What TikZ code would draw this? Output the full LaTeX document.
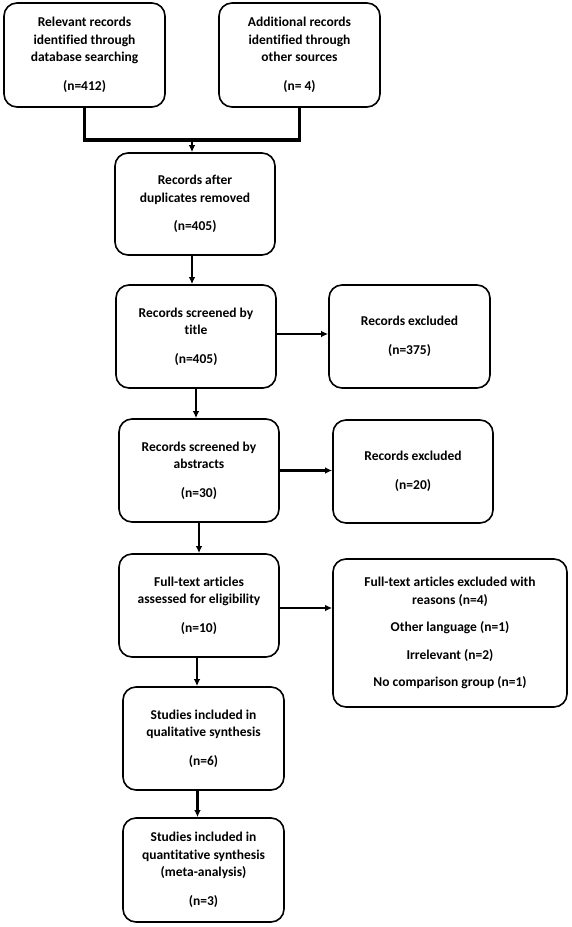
\documentclass[tikz,border=0pt]{standalone}
\usepackage{fontspec}
\setmainfont[Ligatures={NoCommon}]{Carlito}
\usetikzlibrary{arrows.meta}
\begin{document}
\begin{tikzpicture}[x=1pt,y=-1pt,
  box/.style={draw=black, line width=1.6pt, rounded corners=13pt, align=center,
    font=\bfseries\fontsize{13.5}{17.5}\selectfont, inner sep=2pt},
  thickline/.style={line width=3.2pt},
  arr/.style={line width=2.1pt, -{Latex[length=7pt,width=6.5pt]}},
  thickarr/.style={line width=2.4pt, -{Latex[length=7pt,width=6.5pt]}}]
\useasboundingbox (0,0) rectangle (572,927);
\node[box, minimum width=161pt, minimum height=104pt] (b1) at (84.5,55) {Relevant records\\identified through\\database searching\\[11pt](n=412)};
\node[box, minimum width=161pt, minimum height=104pt] (b2) at (299.5,55) {Additional records\\identified through\\other sources\\[11pt](n= 4)};
\node[box, minimum width=160pt, minimum height=102pt] (b3) at (195,204) {Records after\\duplicates removed\\[11pt](n=405)};
\node[box, minimum width=160pt, minimum height=103pt] (b4) at (196,336.5) {Records screened by\\title\\[11pt](n=405)};
\node[box, minimum width=161pt, minimum height=103pt] (e1) at (409.5,336.5) {Records excluded\\[11pt](n=375)};
\node[box, minimum width=160pt, minimum height=103pt] (b5) at (199,470.5) {Records screened by\\abstracts\\[11pt](n=30)};
\node[box, minimum width=160pt, minimum height=103pt] (e2) at (413,471.5) {Records excluded\\[11pt](n=20)};
\node[box, minimum width=160pt, minimum height=103pt] (b6) at (199,605.5) {Full-text articles\\assessed for eligibility\\[11pt](n=10)};
\node[box, minimum width=234pt, minimum height=148pt] (e3) at (450,633) {Full-text articles excluded with\\reasons (n=4)\\[10pt]Other language (n=1)\\[10pt]Irrelevant (n=2)\\[10pt]No comparison group (n=1)};
\node[box, minimum width=161pt, minimum height=103pt] (b7) at (203.5,738.5) {Studies included in\\qualitative synthesis\\[11pt](n=6)};
\node[box, minimum width=161pt, minimum height=104pt] (b8) at (203.5,870) {Studies included in\\quantitative synthesis\\(meta-analysis)\\[11pt](n=3)};
\coordinate (j) at (192,140);
\draw[thickline] (b1.south) |- (j) -| (b2.south);
\draw[thickarr] (j) -- (j |- b3.north);
\draw[arr] ([xshift=-3pt]b3.south) -- ([xshift=-3pt]b3.south |- b4.north);
\draw[arr] (b4.south) -- (b4.south |- b5.north);
\draw[arr] (b5.south) -- (b5.south |- b6.north);
\draw[arr] ([xshift=-2pt]b6.south) -- ([xshift=-2pt]b6.south |- b7.north);
\draw[arr] ([xshift=-6pt]b7.south) -- ([xshift=-6pt]b7.south |- b8.north);
\draw[arr] ([yshift=2.5pt]b4.east) -- ([yshift=2.5pt]b4.east -| e1.west);
\draw[arr] (b5.east) -- (b5.east -| e2.west);
\draw[arr] ([yshift=-2.5pt]b6.east) -- ([yshift=-2.5pt]b6.east -| e3.west);
\end{tikzpicture}
\end{document}
